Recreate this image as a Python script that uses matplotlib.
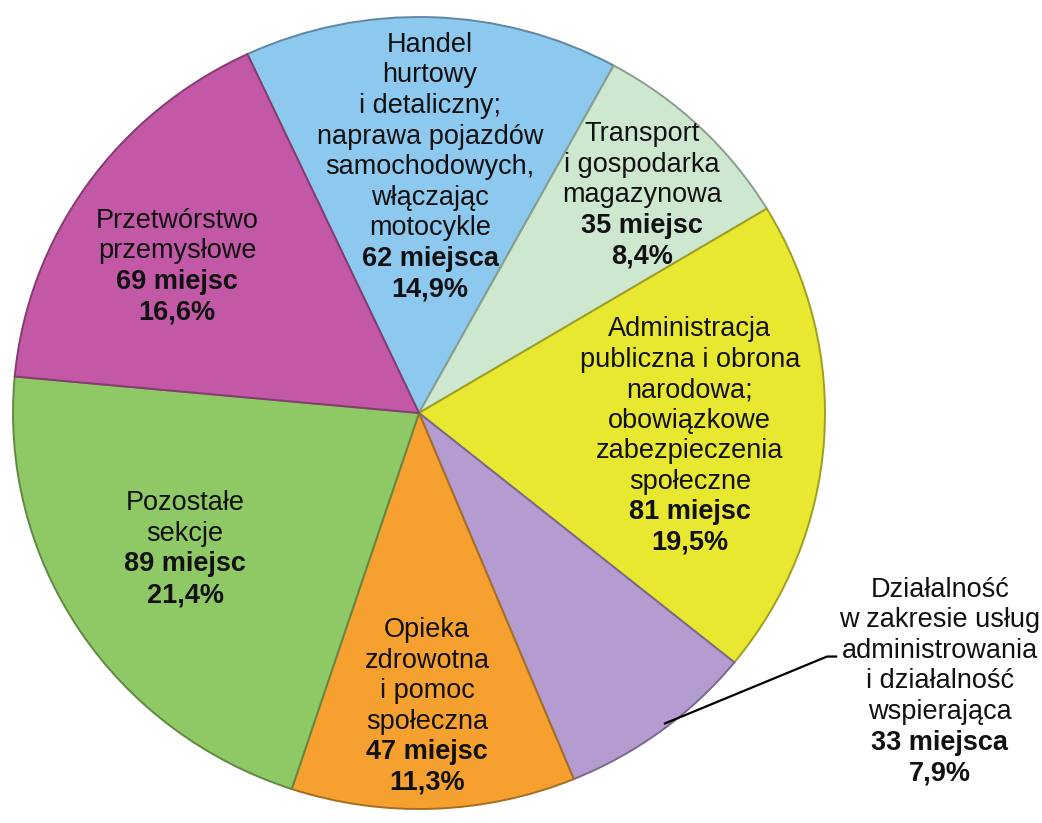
import matplotlib
matplotlib.use("Agg")
import matplotlib.pyplot as plt
import matplotlib.colors as mcolors
import numpy as np

plt.rcParams['font.family'] = ['Liberation Sans', 'DejaVu Sans']

# ---- data ----
sectors = [
    "Handel\nhurtowy\ni detaliczny;\nnaprawa pojazdów\nsamochodowych,\nwłączając\nmotocykle",
    "Transport\ni gospodarka\nmagazynowa",
    "Administracja\npubliczna i obrona\nnarodowa;\nobowiązkowe\nzabezpieczenia\nspołeczne",
    "Działalność\nw zakresie usług\nadministrowania\ni działalność\nwspierająca",
    "Opieka\nzdrowotna\ni pomoc\nspołeczna",
    "Pozostałe\nsekcje",
    "Przetwórstwo\nprzemysłowe",
]
places = [62, 35, 81, 33, 47, 89, 69]
place_words = ["miejsca", "miejsc", "miejsc", "miejsca", "miejsc", "miejsc", "miejsc"]
percents = ["14,9%", "8,4%", "19,5%", "7,9%", "11,3%", "21,4%", "16,6%"]
colors = ["#8DC8EE", "#CDE8CF", "#E9E830", "#B49BD0", "#F6A030", "#8FC965", "#C358A6"]

# ---- layout ----
label_pos = [(0.027, 0.628), (0.549, 0.557), (0.667, -0.051), (1.283, -0.671),
             (0.020, -0.734), (-0.576, -0.337), (-0.596, 0.377)]

fig = plt.figure(figsize=(10.42, 8.23), dpi=100)
ax = fig.add_axes([13/1042, 14/823, 812/1042, 792/823])

def darker(c, f=0.68):
    r, g, b = mcolors.to_rgb(c)
    return (r*f, g*f, b*f)

wedges, _ = ax.pie(places, colors=colors, startangle=115, counterclock=False,
                   radius=1.0, wedgeprops=dict(linewidth=1.4))
for w, c in zip(wedges, colors):
    w.set_edgecolor(darker(c))

ax.set_aspect('auto')
ax.set_xlim(-1, 1)
ax.set_ylim(-1, 1)
ax.axis('off')

FS = 19.5
LS = 22.0  # points between lines
for i, (name, n, word, pct) in enumerate(zip(sectors, places, place_words, percents)):
    lines = [(t, 'normal') for t in name.split("\n")]
    lines += [(f"{n} {word}", 'bold'), (pct, 'bold')]
    cx, cy = label_pos[i]
    nl = len(lines)
    for j, (t, wgt) in enumerate(lines):
        off = ((nl - 1) / 2 - j) * LS - 0.36 * FS
        ax.annotate(t, xy=(cx, cy), xytext=(0, off), textcoords='offset points',
                    ha='center', va='baseline', fontsize=FS, fontweight=wgt,
                    color='#111111', annotation_clip=False)

# leader line for the small outside label
w = wedges[3]
ang = np.deg2rad(w.theta1 + (w.theta2 - w.theta1) * 0.53)
sx, sy = np.cos(ang) * 0.99, np.sin(ang) * 0.99
ax.plot([sx, 1.005, 1.030], [sy, -0.615, -0.615], color='black', lw=1.6,
        clip_on=False, solid_capstyle='butt')

fig.savefig("out.png", dpi=100)
